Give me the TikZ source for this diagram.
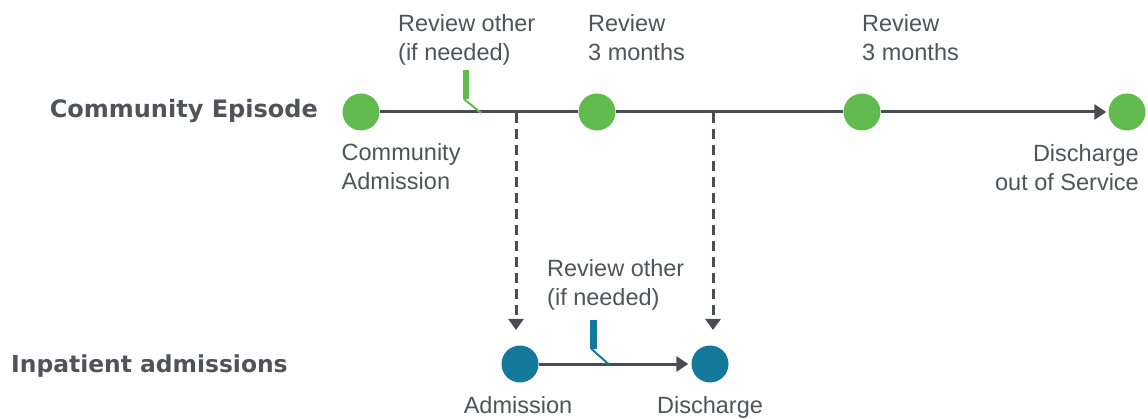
\documentclass[tikz,border=0pt]{standalone}
\usepackage{fontspec}
\setmainfont{Liberation Sans}
\newfontfamily\boldlab{DejaVu Sans}[BoldFont={DejaVu Sans Bold}]
\usetikzlibrary{arrows.meta}
\definecolor{txtgray}{HTML}{505359}
\definecolor{linegray}{HTML}{4A4D54}
\definecolor{dotgreen}{HTML}{62BB4F}
\definecolor{dotblue}{HTML}{15799C}
\tikzset{
  x=1pt,y=1pt,
  gdot/.style={circle,fill=dotgreen,minimum size=37pt,inner sep=0pt},
  bdot/.style={circle,fill=dotblue,minimum size=37pt,inner sep=0pt},
  lbl/.style={text=txtgray,inner sep=0pt,font=\fontsize{23.5}{29}\selectfont},
  head/.style={text=txtgray,inner sep=0pt,font=\boldlab\bfseries\fontsize{24}{29}\selectfont},
  tl/.style={draw=linegray,line width=3pt},
  tlarrow/.style={tl,-{Triangle[length=12pt,width=15pt]}},
  dashconn/.style={draw=linegray,line width=3pt,dash pattern=on 10pt off 6pt,-{Triangle[length=11pt,width=15pt]}},
}
\begin{document}
\begin{tikzpicture}
\useasboundingbox (0,0) rectangle (1148,-419);
% Community episode
\node[gdot] (c1) at (361,-112) {};
\node[gdot] (c2) at (597,-112) {};
\node[gdot] (c3) at (862,-112) {};
\node[gdot] (c4) at (1127,-112) {};
\draw[tl] (c1) -- (c2);
\draw[tl] (c2) -- (c3);
\draw[tlarrow,shorten >=2pt] (c3) -- (c4);
% green tick
\coordinate (gt1) at (466,-70);
\coordinate (gt2) at (466,-99);
\coordinate (gt3) at (481,-113);
\draw[dotgreen,line width=6pt] (gt1) -- (gt2);
\draw[dotgreen,line width=2pt] ([xshift=-2pt]gt2) -- (gt3);
% Inpatient
\node[bdot] (a1) at (520,-364) {};
\node[bdot] (a2) at (710,-364) {};
\draw[tlarrow,shorten >=3pt] (a1) -- (a2);
% blue tick
\coordinate (bt1) at (593.5,-320);
\coordinate (bt2) at (593.5,-349);
\coordinate (bt3) at (609,-364.5);
\draw[dotblue,line width=6.5pt] (bt1) -- (bt2);
\draw[dotblue,line width=2pt] ([xshift=-2pt]bt2) -- (bt3);
% dashed connectors
\coordinate (d1s) at (516,-113.5);
\coordinate (d1e) at (516,-330);
\coordinate (d2s) at (713,-113.5);
\coordinate (d2e) at (713,-330);
\draw[dashconn] (d1s) -- (d1e);
\draw[dashconn] (d2s) -- (d2e);
% headings
\node[head,anchor=base east] (h1) at (318,-117.5) {Community Episode};
\node[head,anchor=base west,font=\boldlab\bfseries\fontsize{23.4}{29}\selectfont] (h2) at (11,-372) {Inpatient admissions};
% labels (multi-line: anchor at last baseline)
\node[lbl,anchor=base west,align=left] (l1) at (398,-61) {Review other\\(if needed)};
\node[lbl,anchor=base west,align=left] (l2) at (588,-61) {Review\\3 months};
\node[lbl,anchor=base west,align=left] (l3) at (862,-61) {Review\\3 months};
\node[lbl,anchor=base west,align=left] (l4) at (341.5,-190) {Community\\Admission};
\node[lbl,anchor=base east,align=right] (l5) at (1139,-190.5) {Discharge\\out of Service};
\node[lbl,anchor=base west,align=left] (l6) at (547,-306) {Review other\\(if needed)};
\node[lbl,anchor=base] (l7) at (518,-413) {Admission};
\node[lbl,anchor=base] (l8) at (710,-413) {Discharge};
\end{tikzpicture}
\end{document}
